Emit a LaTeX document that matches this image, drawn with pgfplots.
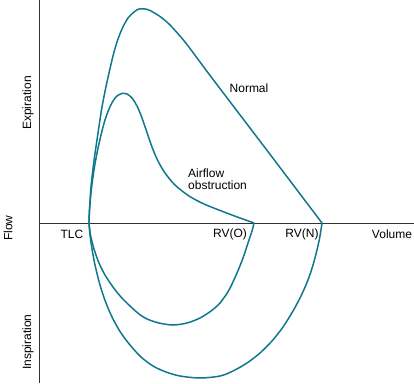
\documentclass[border=0pt]{standalone}
\usepackage{pgfplots}
\pgfplotsset{compat=1.18}
\usepackage{fontspec}
\setmainfont{Liberation Sans}
\definecolor{teal1}{RGB}{16,120,140}
\definecolor{axgray}{RGB}{50,50,50}
\tikzset{
  curve/.style={teal1, line width=1.5pt, smooth, tension=0.5, mark=none},
  lbl/.style={font=\fontsize{12}{13}\selectfont},
}
\begin{document}
\begin{tikzpicture}
\begin{axis}[
  width=414pt, height=383pt, scale only axis,
  xmin=-39, xmax=375, ymin=-160, ymax=223,
  hide axis, clip=false,
]
\coordinate (SW) at (rel axis cs:0,0);
\coordinate (NE) at (rel axis cs:1,1);
% axes
\draw[axgray, line width=1pt] (axis cs:0,-160) -- (axis cs:0,223);
\draw[axgray, line width=1pt] (axis cs:0,0) -- (axis cs:375,0);
% Normal expiration
\addplot[curve] coordinates {(50,0) (50.3,10) (51,22) (52,36) (53.5,50) (55.5,66) (58,83) (60.5,100) (63,116) (66.5,134) (70,150) (74,167) (78,181) (83,194) (89,205) (95,211) (100,214) (106,214) (111,212.5) (121,206.5) (131,198) (146,181) (161,161) (176,141) (230,70) (283,0)};
% Obstruction expiration
\addplot[curve] coordinates {(50,0) (50.5,12) (52,30) (54.5,50) (58,70) (62,88) (66,103) (70,114) (74,122) (78,127) (83,129.5) (88,129) (93,125) (98,117) (103,105) (113,76) (119,62) (126,50) (136,38) (150,27) (165,19) (185,11) (201,5) (215,0)};
% Normal inspiration
\addplot[curve] coordinates {(50,0) (51,-12) (53,-26) (56,-42) (61,-62) (67,-80) (74,-96) (82,-110) (91,-122) (102,-134) (114,-143) (127,-149) (141,-153) (161,-155) (181,-153) (194,-148) (208,-140) (221,-130) (233,-118) (244,-104) (254,-88) (262,-73) (269,-57) (274,-42) (278,-27) (281,-13) (283,0)};
% Obstruction inspiration
\addplot[curve] coordinates {(50,0) (51.5,-12) (55,-26) (60,-40) (66,-52) (74,-64) (82,-74) (91,-83) (100,-91) (108,-96) (120,-100) (134,-102) (148,-100) (161,-95) (172,-88) (181,-80) (190,-67) (198,-50) (204,-35) (209,-20) (213,-8) (215,0)};
% labels
\node[rotate=90, lbl] at (axis cs:-11,120) {Expiration};
\node[rotate=90, lbl] at (axis cs:-31,-5) {Flow};
\node[rotate=90, lbl] at (axis cs:-11,-119) {Inspiration};
\node[lbl] at (axis cs:33,-11) {TLC};
\node[lbl] at (axis cs:191,-11) {RV(O)};
\node[lbl] at (axis cs:263,-11) {RV(N)};
\node[lbl] at (axis cs:353,-11) {Volume};
\node[lbl] at (axis cs:210,135) {Normal};
\node[anchor=west, align=left, inner xsep=0pt, font=\fontsize{12}{12}\selectfont] at (axis cs:149,44) {Airflow\\obstruction};
\end{axis}
\pgfresetboundingbox
\path[use as bounding box] (SW) rectangle (NE);
\end{tikzpicture}
\end{document}
